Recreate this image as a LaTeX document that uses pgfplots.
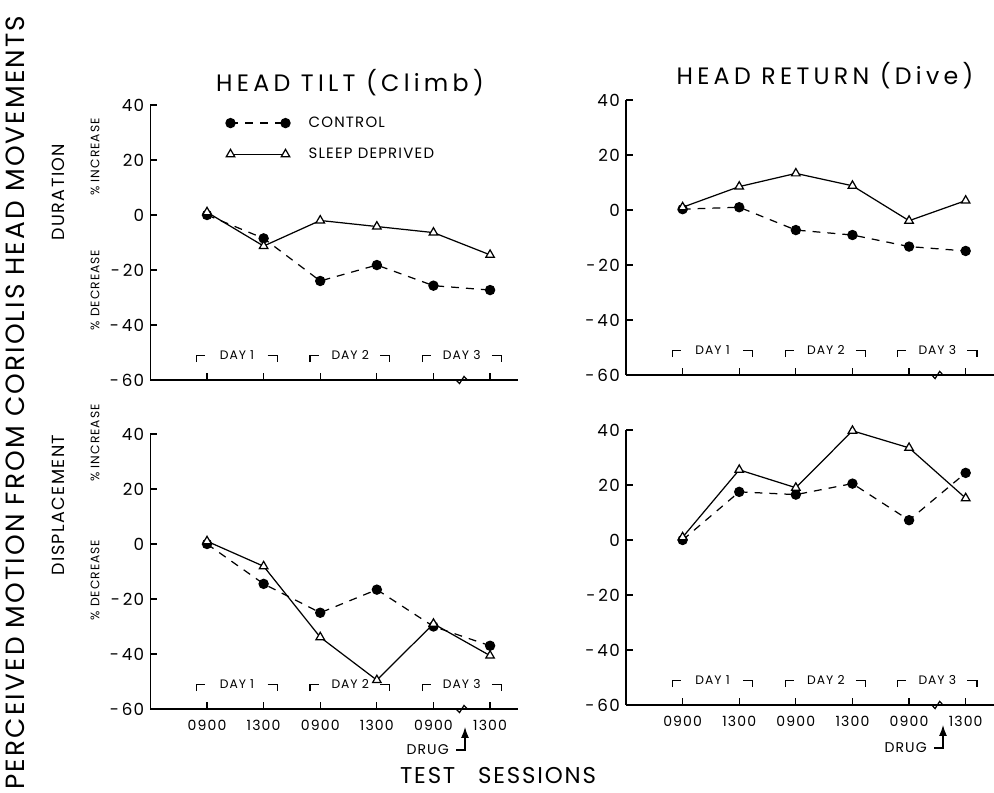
\documentclass[border=0pt]{standalone}
\usepackage{fontspec}
\setmainfont{Poppins}[LetterSpace=8]
\newfontfamily\wide{Poppins}[LetterSpace=18]
\usepackage{pgfplots}
\pgfplotsset{compat=1.18}
\usetikzlibrary{arrows.meta}

% one pixel of the reference = 0.02cm
\pgfplotsset{
  panel/.style={
    width=7.36cm, height=5.5cm, scale only axis,
    anchor=south west,
    xmin=0, xmax=6.5, ymin=-60, ymax=40,
    axis x line*=bottom, axis y line*=left,
    axis line style={-, line width=0.8pt},
    tick align=inside, xtick align=inside, ytick align=inside,
    major tick length=0.14cm,
    tick style={line width=0.7pt, black},
    xtick={1,...,6}, xticklabels={},
    ytick={-60,-40,-20,0,20,40},
    yticklabels={-\,60,-\,40,-\,20,0,20,40},
    yticklabel style={font=\fontsize{9.5}{10}\selectfont},
    xticklabel style={font=\fontsize{8}{9}\selectfont, yshift=-3pt},
    clip=false,
  },
  ctrl/.style={black, line width=0.7pt, dash pattern=on 4.5pt off 4pt,
    mark=*, mark size=2.6pt, mark options={solid}},
  sleep/.style={black, line width=0.7pt, mark=triangle*, mark size=2.8pt,
    mark options={solid, fill=white}},
}

\newcommand\daybr[4]{% left, right, centre, label
  \draw[line width=0.7pt] (axis cs:#1,-53.5) -- (axis cs:#1,-51) -- (axis cs:#1+0.15,-51);
  \draw[line width=0.7pt] (axis cs:#2-0.17,-51) -- (axis cs:#2,-51) -- (axis cs:#2,-53.5);
  \node[font=\fontsize{7}{8}\selectfont, inner sep=0pt] at (axis cs:#3,-51.0) {DAY #4};
}
\newcommand\days{%
  \daybr{0.82}{2.24}{1.53}{1}
  \daybr{2.82}{4.23}{3.53}{2}
  \daybr{4.80}{6.20}{5.50}{3}
  \draw[line width=0.7pt] (axis cs:5.40,-60) -- (axis cs:5.46,-61.3) -- (axis cs:5.54,-58.7) -- (axis cs:5.60,-60);
}

\begin{document}
\begin{tikzpicture}
\path[use as bounding box] (0,0) rectangle (19.88,-15.86);

% top left: duration, head tilt
\begin{scope}[shift={(3.008,-7.60)}]
\begin{axis}[panel,
  legend style={at={(0.19,0.985)}, anchor=north west, draw=none, fill=none,
    font=\fontsize{8.5}{9}\selectfont, row sep=0.22cm,
    /tikz/every odd column/.append style={column sep=0.3cm}},
  legend cell align=left,
  legend image code/.code={\draw[#1] plot coordinates {(0cm,0cm) (1.1cm,0cm)};},
]
\addplot[ctrl] coordinates {(1,0) (2,-8.5) (3,-24) (4,-18.2) (5,-25.7) (6,-27.3)};
\addplot[sleep] coordinates {(1,1) (2,-11.3) (3,-2) (4,-4.2) (5,-6.4) (6,-14.5)};
\legend{CONTROL, SLEEP DEPRIVED}
\days
\end{axis}
\end{scope}

% top right: duration, head return
\begin{scope}[shift={(12.52,-7.50)}]
\begin{axis}[panel]
\addplot[ctrl] coordinates {(1,0.3) (2,1) (3,-7.3) (4,-9.1) (5,-13.3) (6,-14.9)};
\addplot[sleep] coordinates {(1,1) (2,8.5) (3,13.3) (4,8.8) (5,-3.9) (6,3.4)};
\days
\end{axis}
\end{scope}

% bottom left: displacement, head tilt
\begin{scope}[shift={(3.008,-14.18)}]
\begin{axis}[panel, xticklabels={0900,1300,0900,1300,0900,1300}]
\addplot[ctrl] coordinates {(1,0) (2,-14.5) (3,-25) (4,-16.6) (5,-30) (6,-37)};
\addplot[sleep] coordinates {(1,1) (2,-8.1) (3,-33.9) (4,-49.5) (5,-29) (6,-40.6)};
\days
\end{axis}
\end{scope}

% bottom right: displacement, head return
\begin{scope}[shift={(12.52,-14.10)}]
\begin{axis}[panel, xticklabels={0900,1300,0900,1300,0900,1300}]
\addplot[ctrl] coordinates {(1,0) (2,17.5) (3,16.5) (4,20.5) (5,7.2) (6,24.4)};
\addplot[sleep] coordinates {(1,1) (2,25.5) (3,19) (4,39.7) (5,33.5) (6,15.2)};
\days
\end{axis}
\end{scope}

% titles and labels
\node[font=\wide\fontsize{13.5}{14}\selectfont] at (7.0,-1.66) {HEAD TILT (Climb)};
\node[font=\wide\fontsize{13.5}{14}\selectfont] at (16.5,-1.52) {HEAD RETURN (Dive)};
\node[rotate=90, font=\fontsize{15}{16}\selectfont] at (0.30,-8.05)
  {PERCEIVED MOTION FROM CORIOLIS HEAD MOVEMENTS};
\node[rotate=90, font=\fontsize{10}{11}\selectfont] at (1.16,-3.84) {DURATION};
\node[rotate=90, font=\fontsize{10}{11}\selectfont] at (1.16,-10.10) {DISPLACEMENT};
\node[rotate=90, font=\fontsize{7}{8}\selectfont] at (1.90,-3.14) {\% INCREASE};
\node[rotate=90, font=\fontsize{7}{8}\selectfont] at (1.90,-5.80) {\% DECREASE};
\node[rotate=90, font=\fontsize{7}{8}\selectfont] at (1.90,-8.86) {\% INCREASE};
\node[rotate=90, font=\fontsize{7}{8}\selectfont] at (1.90,-11.60) {\% DECREASE};
\node[font=\fontsize{13}{14}\selectfont] at (9.96,-15.52) {TEST\quad SESSIONS};

% drug arrows
\draw[line width=0.7pt, -{Latex[length=2.2mm,width=1.6mm]}] (9.12,-15.00) -- (9.30,-15.00) -- (9.30,-14.54);
\node[anchor=east, font=\fontsize{8}{9}\selectfont] at (9.10,-15.00) {DRUG};
\draw[line width=0.7pt, -{Latex[length=2.2mm,width=1.6mm]}] (18.68,-14.96) -- (18.86,-14.96) -- (18.86,-14.50);
\node[anchor=east, font=\fontsize{8}{9}\selectfont] at (18.66,-14.96) {DRUG};
\end{tikzpicture}
\end{document}
